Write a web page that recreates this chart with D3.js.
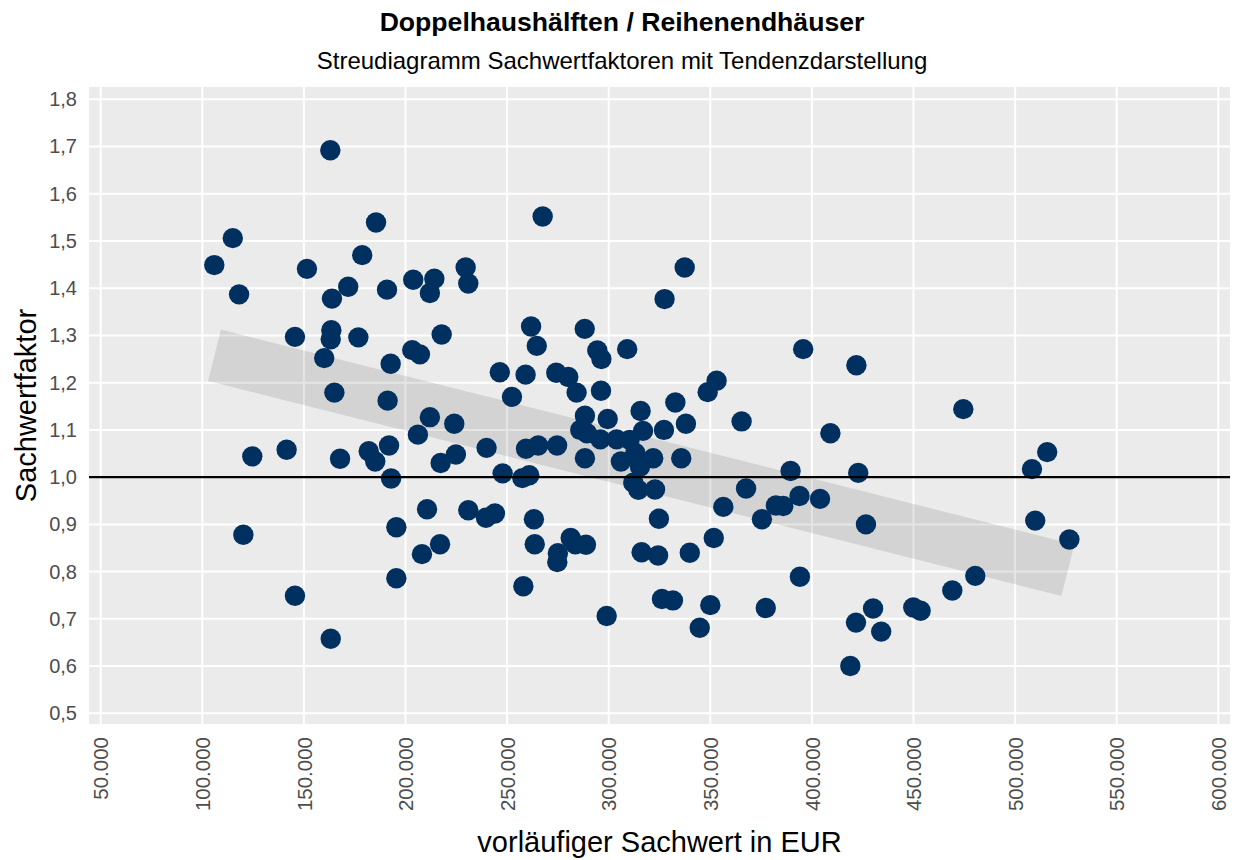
<!DOCTYPE html>
<html>
<head>
<meta charset="utf-8">
<script src="https://cdn.jsdelivr.net/npm/d3@7"></script>
<style>
  body { margin: 0; background: #fff; }
  svg text { font-family: "Liberation Sans", Arial, sans-serif; }
</style>
</head>
<body>
<div id="chart"></div>
<script>
// vorläufiger Sachwert (EUR)
var sachwert = [
  105900, 115000, 118100, 120200, 124600, 141500, 145600, 145600, 151500, 160000,
  163000, 163800, 163500, 163200, 165000, 163200, 167800, 171800, 176800, 178700,
  185500, 181900, 185100, 190900, 191200, 192700, 191900, 192900, 195500, 195500,
  203800, 203300, 207100, 206100, 208100, 210600, 212000, 214200, 212000, 217800,
  217000, 217300, 224000, 224800, 229600, 230900, 230900, 239600, 244000, 239900,
  246400, 247800, 252400, 257500, 260900, 259100, 259300, 261800, 264600, 265300,
  267500, 263200, 263600, 258000, 274200, 274600, 275000, 274700, 280100, 281300,
  283600, 284200, 286000, 288200, 288300, 288300, 288800, 289300, 294400, 296400,
  296200, 295900, 299000, 299500, 303900, 306000, 309100, 310300, 312100, 313100,
  314600, 315200, 315400, 315700, 316200, 316900, 321900, 322800, 324300, 324700,
  326200, 327200, 327500, 331600, 332800, 335700, 337400, 338000, 339900, 344800,
  348700, 350000, 351700, 353100, 356400, 365400, 367600, 375400, 377300, 382300,
  385900, 389500, 393900, 394100, 395700, 404000, 409100, 418900, 421700, 421900,
  422800, 426600, 430100, 434100, 449900, 453500, 469100, 474500, 480400, 508300,
  509900, 515800, 526700
];

// Sachwertfaktor for each point, same order
var faktor = [
  1.449, 1.506, 1.387, 0.878, 1.044, 1.058, 1.297, 0.749, 1.441, 1.252,
  1.692, 1.378, 1.311, 1.292, 1.179, 0.658, 1.039, 1.403, 1.296, 1.470,
  1.539, 1.055, 1.033, 1.397, 1.162, 1.240, 1.067, 0.997, 0.894, 0.786,
  1.418, 1.269, 1.260, 1.090, 0.837, 0.932, 1.390, 1.420, 1.127, 1.302,
  0.858, 1.030, 1.113, 1.048, 1.444, 1.410, 0.930, 0.914, 0.923, 1.062,
  1.222, 1.008, 1.170, 0.998, 1.004, 1.217, 1.060, 1.319, 1.278, 1.067,
  1.552, 0.911, 0.858, 0.769, 1.221, 1.067, 0.839, 0.820, 1.212, 0.871,
  0.858, 1.179, 1.100, 1.314, 1.130, 1.040, 0.857, 1.093, 1.268, 1.250,
  1.183, 1.080, 0.706, 1.123, 1.080, 1.033, 1.271, 1.079, 0.988, 1.051,
  0.973, 1.036, 1.022, 1.140, 0.841, 1.098, 1.040, 0.974, 0.834, 0.912,
  0.742, 1.100, 1.377, 0.739, 1.158, 1.040, 1.444, 1.113, 0.840, 0.681,
  1.180, 0.729, 0.871, 1.204, 0.937, 1.118, 0.976, 0.911, 0.723, 0.940,
  0.939, 1.013, 0.960, 0.789, 1.271, 0.954, 1.093, 0.600, 0.692, 1.237,
  1.009, 0.900, 0.722, 0.673, 0.724, 0.717, 0.760, 1.144, 0.791, 1.017,
  0.908, 1.053, 0.868
];

// Tendenz (linear trend) endpoints
var trendSachwert = [106000, 526000];
var trendFaktor = [1.258, 0.803];

var xTicks = [50000, 100000, 150000, 200000, 250000, 300000, 350000, 400000, 450000, 500000, 550000, 600000];
var yTicks = [0.5, 0.6, 0.7, 0.8, 0.9, 1.0, 1.1, 1.2, 1.3, 1.4, 1.5, 1.6, 1.7, 1.8];
var referenceFaktor = 1.0;

var width = 1239, height = 860;
var panel = {left: 89, right: 1230, top: 87, bottom: 724};

var de = d3.formatLocale({decimal: ",", thousands: ".", grouping: [3], currency: ["", " €"]});

var svg = d3.select("#chart")
    .append("svg")
    .attr("width", width)
    .attr("height", height);

var x = d3.scaleLinear()
    .domain([50000, 600000])
    .range([100.7, 1218.3]);

var y = d3.scaleLinear()
    .domain([0.5, 1.8])
    .range([713.3, 99.3]);

// Panel background
svg.append("rect")
    .attr("x", panel.left)
    .attr("y", panel.top)
    .attr("width", panel.right - panel.left)
    .attr("height", panel.bottom - panel.top)
    .attr("fill", "#EBEBEB");

// Grid lines
svg.append("g")
    .selectAll("line")
    .data(xTicks)
    .join("line")
    .attr("x1", function(d) { return x(d); })
    .attr("x2", function(d) { return x(d); })
    .attr("y1", panel.top)
    .attr("y2", panel.bottom)
    .attr("stroke", "#fff")
    .attr("stroke-width", 2);

svg.append("g")
    .selectAll("line")
    .data(yTicks)
    .join("line")
    .attr("x1", panel.left)
    .attr("x2", panel.right)
    .attr("y1", function(d) { return y(d); })
    .attr("y2", function(d) { return y(d); })
    .attr("stroke", "#fff")
    .attr("stroke-width", 2);

// Trend band
svg.append("path")
    .datum(d3.zip(trendSachwert, trendFaktor))
    .attr("fill", "none")
    .attr("stroke", "#000")
    .attr("stroke-opacity", 0.1)
    .attr("stroke-width", 53)
    .attr("stroke-linecap", "butt")
    .attr("d", d3.line()
        .x(function(d) { return x(d[0]); })
        .y(function(d) { return y(d[1]); }));

// Points
svg.append("g")
    .selectAll("circle")
    .data(d3.zip(sachwert, faktor))
    .join("circle")
    .attr("cx", function(d) { return x(d[0]); })
    .attr("cy", function(d) { return y(d[1]); })
    .attr("r", 10.2)
    .attr("fill", "#00305F");

// Reference line at 1,0
svg.append("line")
    .attr("x1", panel.left)
    .attr("x2", panel.right)
    .attr("y1", y(referenceFaktor))
    .attr("y2", y(referenceFaktor))
    .attr("stroke", "#000")
    .attr("stroke-width", 2.3);

// Y axis labels
var yAxis = svg.append("g")
    .attr("transform", "translate(" + panel.left + ",0)")
    .call(d3.axisLeft(y).tickValues(yTicks).tickFormat(de.format(",.1f")).tickSize(0).tickPadding(12));
yAxis.select(".domain").remove();
yAxis.selectAll("text")
    .attr("fill", "#4D4D4D")
    .style("font-size", "20px");

// X axis labels, rotated
var xAxis = svg.append("g")
    .attr("transform", "translate(0," + panel.bottom + ")")
    .call(d3.axisBottom(x).tickValues(xTicks).tickFormat(de.format(",d")).tickSize(0));
xAxis.select(".domain").remove();
xAxis.selectAll("text")
    .attr("transform", "rotate(-90)")
    .attr("text-anchor", "end")
    .attr("x", -13)
    .attr("y", 0)
    .attr("dy", "0.35em")
    .attr("fill", "#4D4D4D")
    .style("font-size", "20.5px");

// Titles
svg.append("text")
    .attr("x", 622)
    .attr("y", 31)
    .attr("text-anchor", "middle")
    .style("font-size", "26.6px")
    .style("font-weight", "bold")
    .text("Doppelhaushälften / Reihenendhäuser");

svg.append("text")
    .attr("x", 622)
    .attr("y", 69)
    .attr("text-anchor", "middle")
    .style("font-size", "24px")
    .text("Streudiagramm Sachwertfaktoren mit Tendenzdarstellung");

// Axis titles
svg.append("text")
    .attr("x", (panel.left + panel.right) / 2)
    .attr("y", 852)
    .attr("text-anchor", "middle")
    .style("font-size", "29px")
    .text("vorläufiger Sachwert in EUR");

svg.append("text")
    .attr("transform", "translate(36," + ((panel.top + panel.bottom) / 2) + ") rotate(-90)")
    .attr("text-anchor", "middle")
    .style("font-size", "29px")
    .text("Sachwertfaktor");
</script>
</body>
</html>
